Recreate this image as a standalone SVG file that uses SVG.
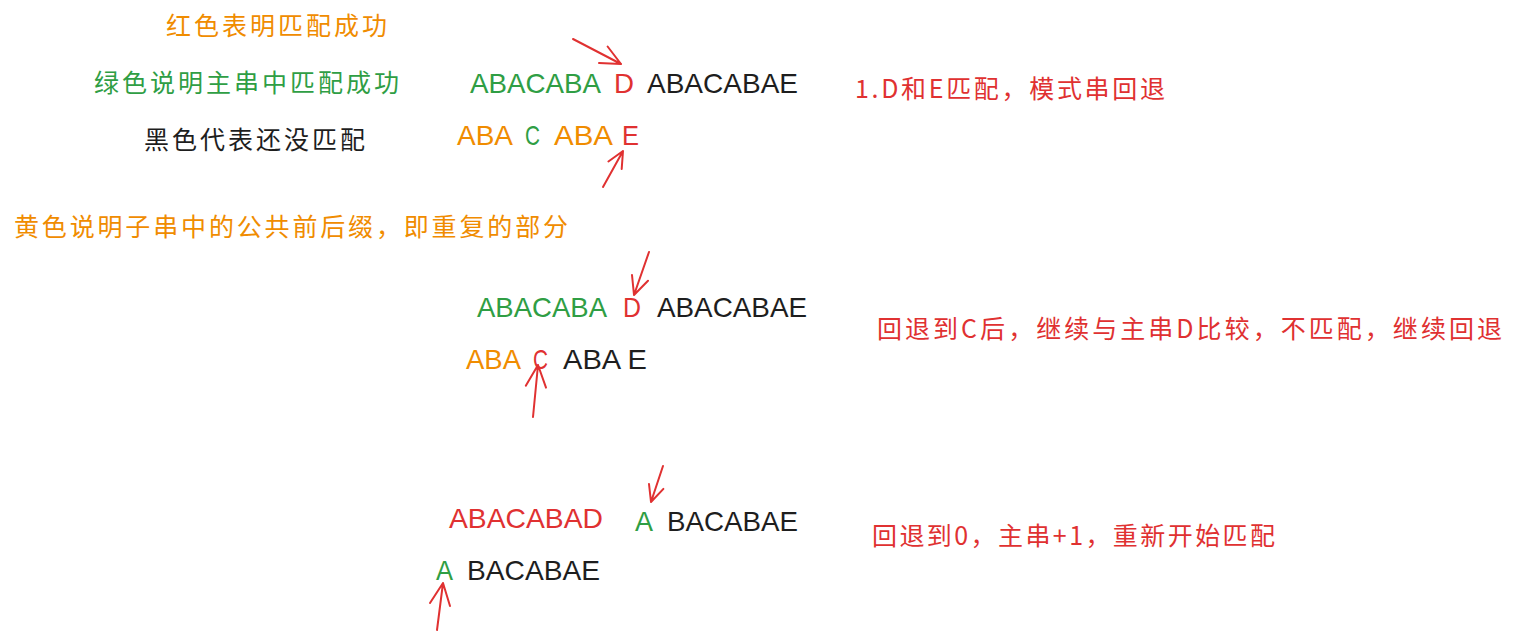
<svg xmlns="http://www.w3.org/2000/svg" width="1513" height="640" viewBox="0 0 1513 640">
<style>
.cjk{font-family:"Noto Sans CJK SC","Noto Sans",sans-serif;font-size:25px}
.lat{font-family:"Liberation Sans",Arial,sans-serif;font-size:28px}
.o{fill:#f08c00}.g{fill:#2f9e44}.r{fill:#e03131}.k{fill:#1e1e1e}
.arr{fill:none;stroke:#e03131;stroke-width:2;stroke-linecap:round;stroke-linejoin:round}
</style>
<rect width="1513" height="640" fill="#ffffff"/>
<g id="legend-red"><text class="cjk o" x="166" y="35" textLength="221" lengthAdjust="spacing">红色表明匹配成功</text></g>
<g id="legend-green"><text class="cjk g" x="94" y="92" textLength="305" lengthAdjust="spacing">绿色说明主串中匹配成功</text></g>
<g id="legend-black"><text class="cjk k" x="144" y="149" textLength="221" lengthAdjust="spacing">黑色代表还没匹配</text></g>
<g id="legend-yellow"><text class="cjk o" x="14" y="236" textLength="554" lengthAdjust="spacing">黄色说明子串中的公共前后缀，即重复的部分</text></g>

<g id="step1-main">
<text class="lat g" x="470" y="93" textLength="131" lengthAdjust="spacingAndGlyphs">ABACABA</text>
<text class="lat r" x="614" y="93" textLength="20" lengthAdjust="spacingAndGlyphs">D</text>
<text class="lat k" x="647" y="93" textLength="151" lengthAdjust="spacingAndGlyphs">ABACABAE</text>
</g>
<g id="step1-pattern">
<text class="lat o" x="457" y="145" textLength="56" lengthAdjust="spacingAndGlyphs">ABA</text>
<text class="lat g" x="525" y="145" textLength="15" lengthAdjust="spacingAndGlyphs">C</text>
<text class="lat o" x="554" y="145" textLength="59" lengthAdjust="spacingAndGlyphs">ABA</text>
<text class="lat r" x="622" y="145" textLength="17" lengthAdjust="spacingAndGlyphs">E</text>
</g>
<g id="step1-note"><text class="cjk r" x="855" y="98" textLength="310" lengthAdjust="spacing">1.D和E匹配，模式串回退</text></g>

<g id="step2-main">
<text class="lat g" x="477" y="317" textLength="130" lengthAdjust="spacingAndGlyphs">ABACABA</text>
<text class="lat r" x="623" y="317" textLength="18" lengthAdjust="spacingAndGlyphs">D</text>
<text class="lat k" x="657" y="317" textLength="150" lengthAdjust="spacingAndGlyphs">ABACABAE</text>
</g>
<g id="step2-pattern">
<text class="lat o" x="466" y="369" textLength="55" lengthAdjust="spacingAndGlyphs">ABA</text>
<text class="lat r" x="533" y="369" textLength="15" lengthAdjust="spacingAndGlyphs">C</text>
<text class="lat k" x="563" y="369" textLength="84" lengthAdjust="spacingAndGlyphs">ABA E</text>
</g>
<g id="step2-note"><text class="cjk r" x="877" y="338" textLength="625" lengthAdjust="spacing">回退到C后，继续与主串D比较，不匹配，继续回退</text></g>

<g id="step3-main">
<text class="lat r" x="449" y="528" textLength="154" lengthAdjust="spacingAndGlyphs">ABACABAD</text>
<text class="lat g" x="635" y="531" textLength="18" lengthAdjust="spacingAndGlyphs">A</text>
<text class="lat k" x="667" y="531" textLength="131" lengthAdjust="spacingAndGlyphs">BACABAE</text>
</g>
<g id="step3-pattern">
<text class="lat g" x="436" y="580" textLength="17" lengthAdjust="spacingAndGlyphs">A</text>
<text class="lat k" x="467" y="580" textLength="133" lengthAdjust="spacingAndGlyphs">BACABAE</text>
</g>
<g id="step3-note"><text class="cjk r" x="872" y="545" textLength="403" lengthAdjust="spacing">回退到0，主串+1，重新开始匹配</text></g>

<g id="connectors">
<path class="arr" d="M573 39 L621 64 M607.6 46.5 L621 64 L599 63"/>
<path class="arr" d="M603 187 L623 151 M608.4 161.5 L623 151 L621.7 169"/>
<path class="arr" d="M649 252 L634 295 M648 280.7 L634 295 L632 275"/>
<path class="arr" d="M533 417 L538 365 M525.8 385.7 L538 365 L546 387.6"/>
<path class="arr" d="M663 466 L651 502 M663.4 488.9 L651 502 L649 484"/>
<path class="arr" d="M437 630 L443 583 M430 603 L443 583 L450 606"/>
</g>
</svg>
